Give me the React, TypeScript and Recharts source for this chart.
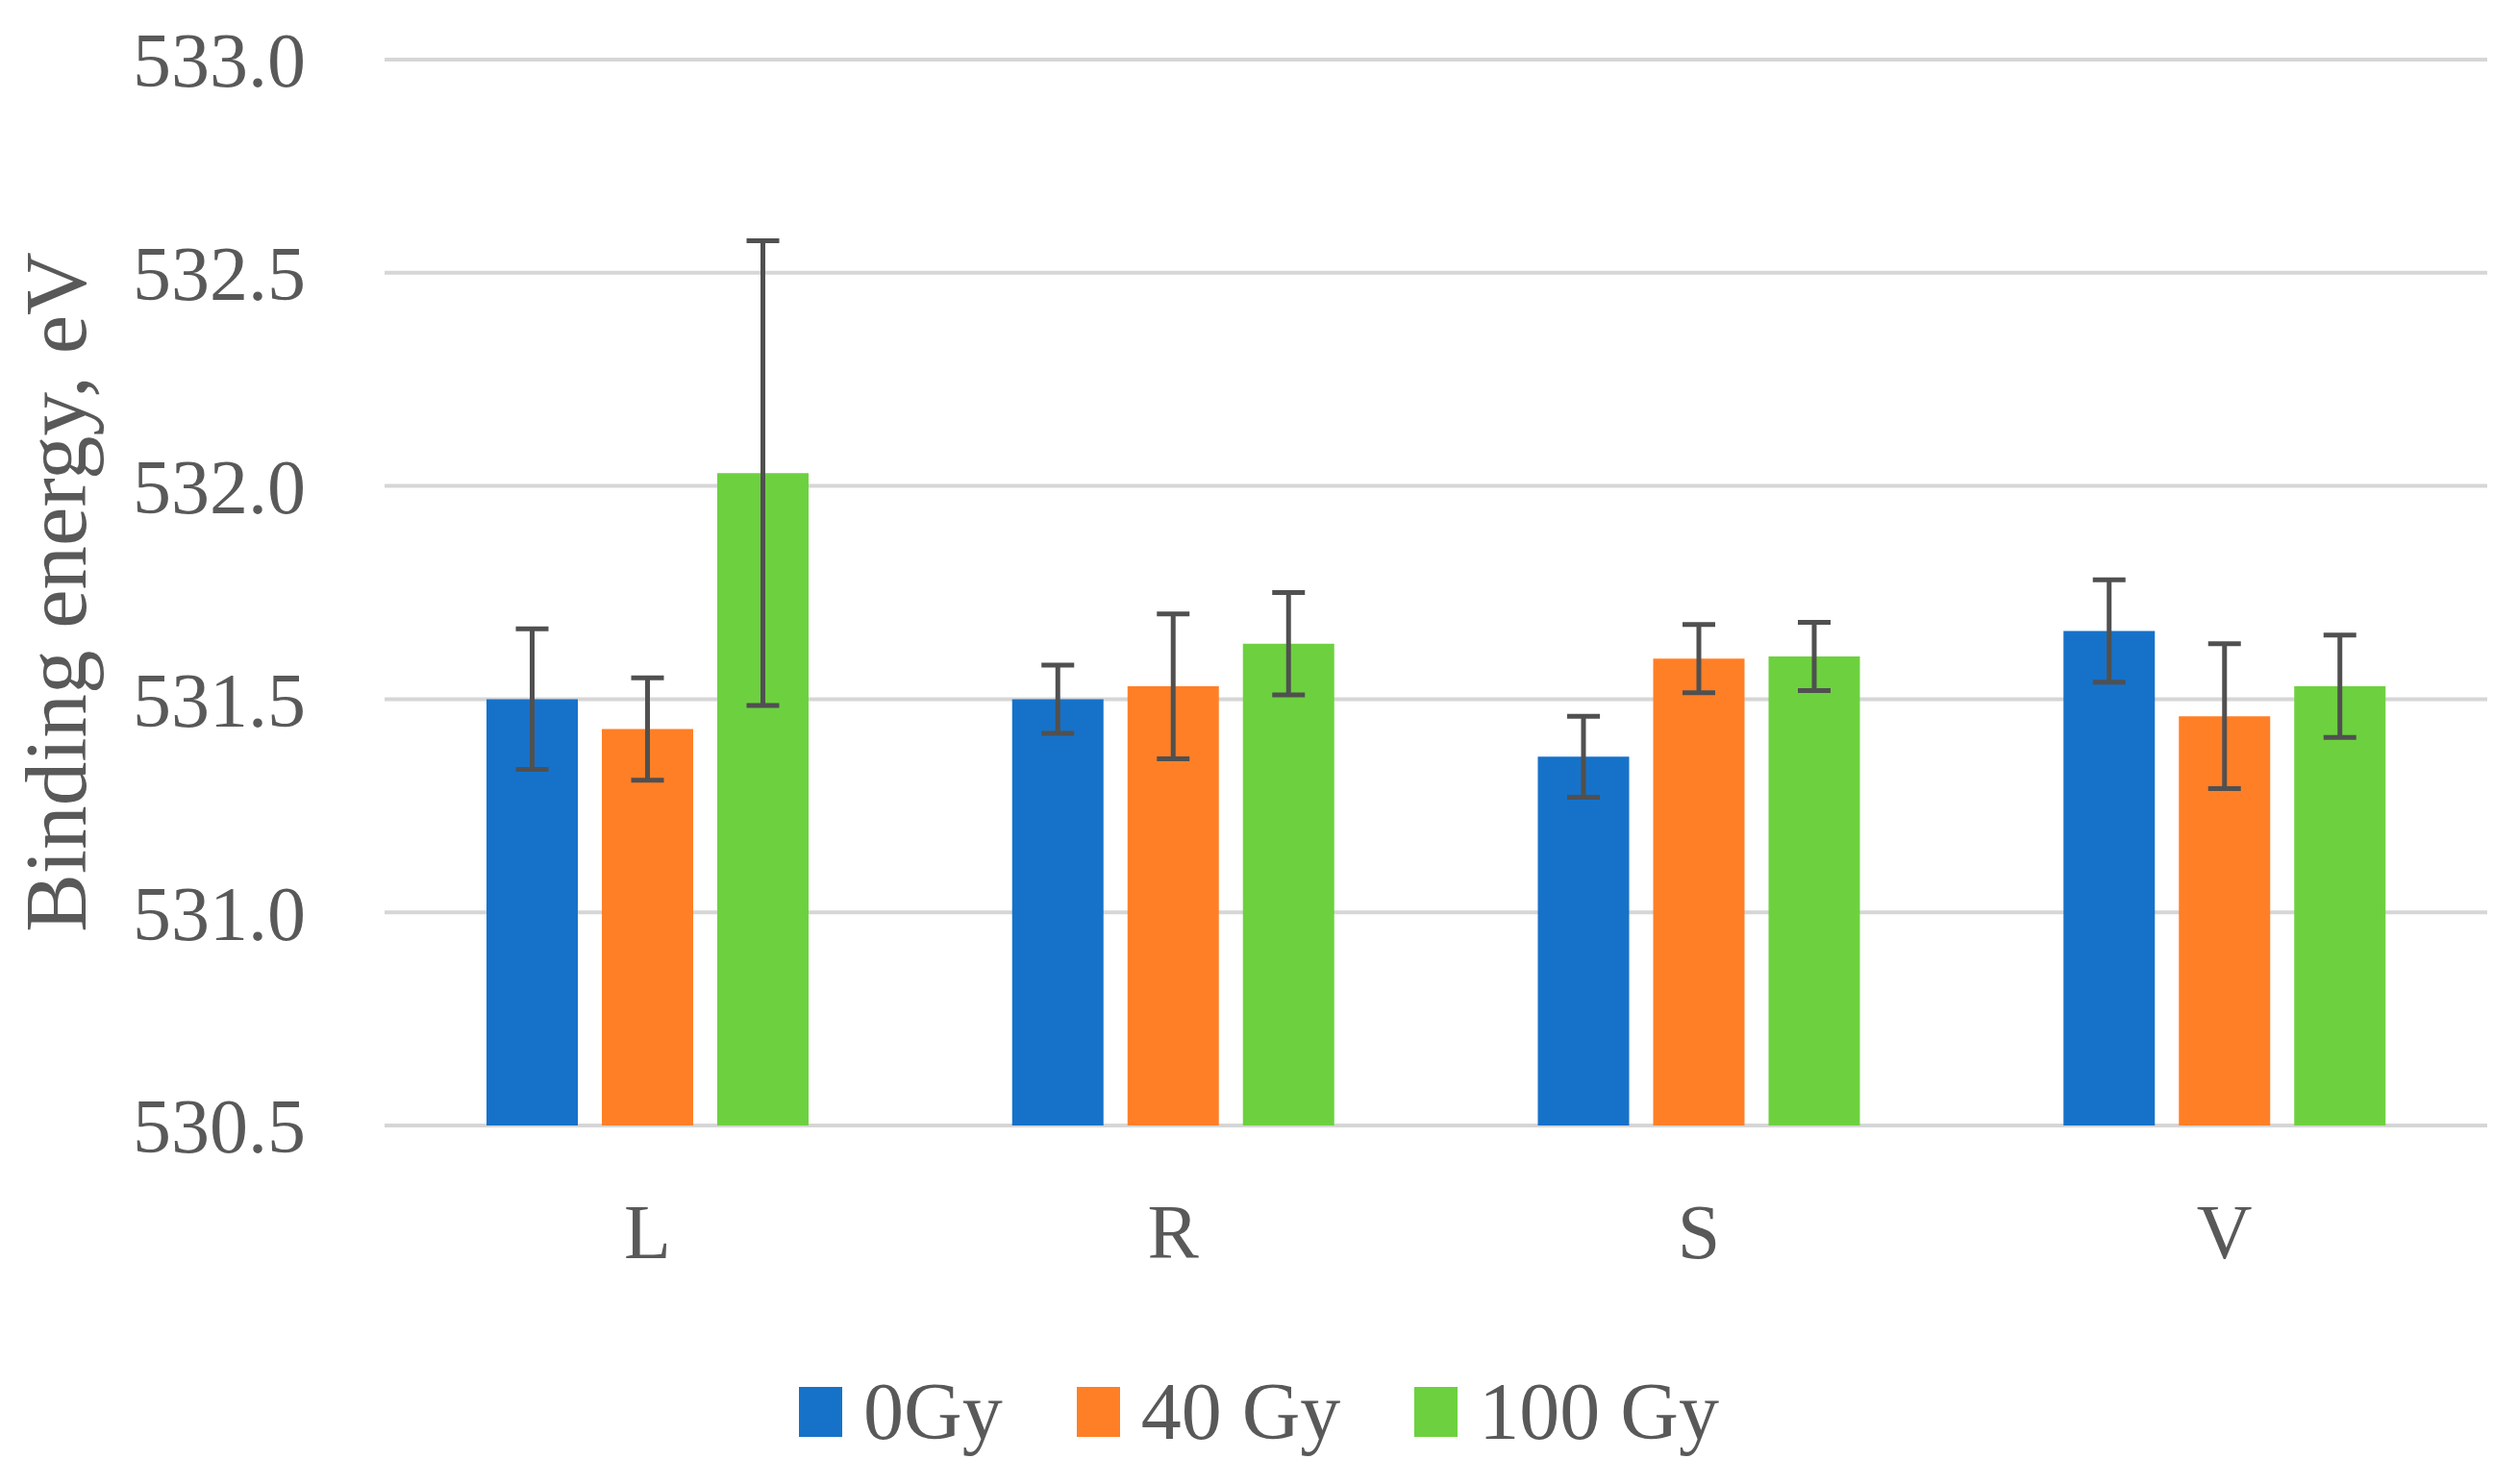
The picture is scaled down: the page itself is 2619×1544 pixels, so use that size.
import React from "react";
import {
  BarChart,
  Bar,
  XAxis,
  YAxis,
  CartesianGrid,
  ErrorBar,
  Legend,
} from "recharts";

const categories = ["L", "R", "S", "V"];

const gy0 = [531.5, 531.5, 531.365, 531.66];
const gy0Err = [0.165, 0.08, 0.095, 0.12];
const gy40 = [531.43, 531.53, 531.595, 531.46];
const gy40Err = [0.12, 0.17, 0.08, 0.17];
const gy100 = [532.03, 531.63, 531.6, 531.53];
const gy100Err = [0.545, 0.12, 0.08, 0.12];

const yTicks = [530.5, 531.0, 531.5, 532.0, 532.5, 533.0];

const series = [
  { key: "g0", err: "g0e", name: "0Gy", color: "#1672C9" },
  { key: "g40", err: "g40e", name: "40 Gy", color: "#FF7F27" },
  { key: "g100", err: "g100e", name: "100 Gy", color: "#6DD13F" },
];

const data = categories.map((name, i) => ({
  name,
  g0: gy0[i],
  g0e: gy0Err[i],
  g40: gy40[i],
  g40e: gy40Err[i],
  g100: gy100[i],
  g100e: gy100Err[i],
}));

const FONT = "'Liberation Serif', 'Times New Roman', serif";
const TEXT = "#595959";

function LegendContent() {
  return (
    <div
      style={{
        display: "flex",
        justifyContent: "center",
        alignItems: "center",
        fontFamily: FONT,
        fontSize: 84,
        color: TEXT,
      }}
    >
      {series.map((s, i) => (
        <div
          key={s.key}
          style={{
            display: "flex",
            alignItems: "center",
            marginLeft: i === 0 ? 0 : 77,
          }}
        >
          <div
            style={{
              width: 45,
              height: 52,
              background: s.color,
              marginRight: 22,
            }}
          />
          <span style={{ lineHeight: 1 }}>{s.name}</span>
        </div>
      ))}
    </div>
  );
}

export default function App() {
  return (
    <div
      style={{
        position: "absolute",
        left: 0,
        top: 0,
        width: 2619,
        height: 1544,
        background: "#fff",
      }}
    >
      <BarChart
        width={2619}
        height={1544}
        data={data}
        margin={{ top: 62, right: 32, left: 0, bottom: 193 }}
        barSize={95}
        barGap={25}
      >
        <CartesianGrid
          vertical={false}
          stroke="#D6D6D6"
          strokeWidth={4}
        />
        <XAxis
          dataKey="name"
          height={180}
          axisLine={false}
          tickLine={false}
          tickSize={0}
          tickMargin={81}
          tick={{ fontFamily: FONT, fontSize: 80, fill: TEXT }}
        />
        <YAxis
          width={400}
          domain={[530.5, 533]}
          ticks={yTicks}
          interval={0}
          axisLine={false}
          tickLine={false}
          tickSize={0}
          tickMargin={82}
          tickFormatter={(v: number) => v.toFixed(1)}
          tick={{ fontFamily: FONT, fontSize: 80, fill: TEXT }}
          label={{
            value: "Binding energy, eV",
            content: () => (
              <text
                x={58}
                y={616}
                transform="rotate(-90 58 616)"
                textAnchor="middle"
                dominantBaseline="central"
                fontFamily={FONT}
                fontSize={91}
                fill={TEXT}
              >
                Binding energy, eV
              </text>
            ),
          }}
        />
        <Legend
          verticalAlign="middle"
          align="center"
          content={() => <LegendContent />}
          wrapperStyle={{ top: 1427, left: 0, width: 2619, height: 60 }}
        />
        {series.map((s) => (
          <Bar
            key={s.key}
            dataKey={s.key}
            name={s.name}
            fill={s.color}
            isAnimationActive={false}
          >
            <ErrorBar
              dataKey={s.err}
              direction="y"
              width={17}
              strokeWidth={5}
              stroke="#505050"
              isAnimationActive={false}
            />
          </Bar>
        ))}
      </BarChart>
    </div>
  );
}
